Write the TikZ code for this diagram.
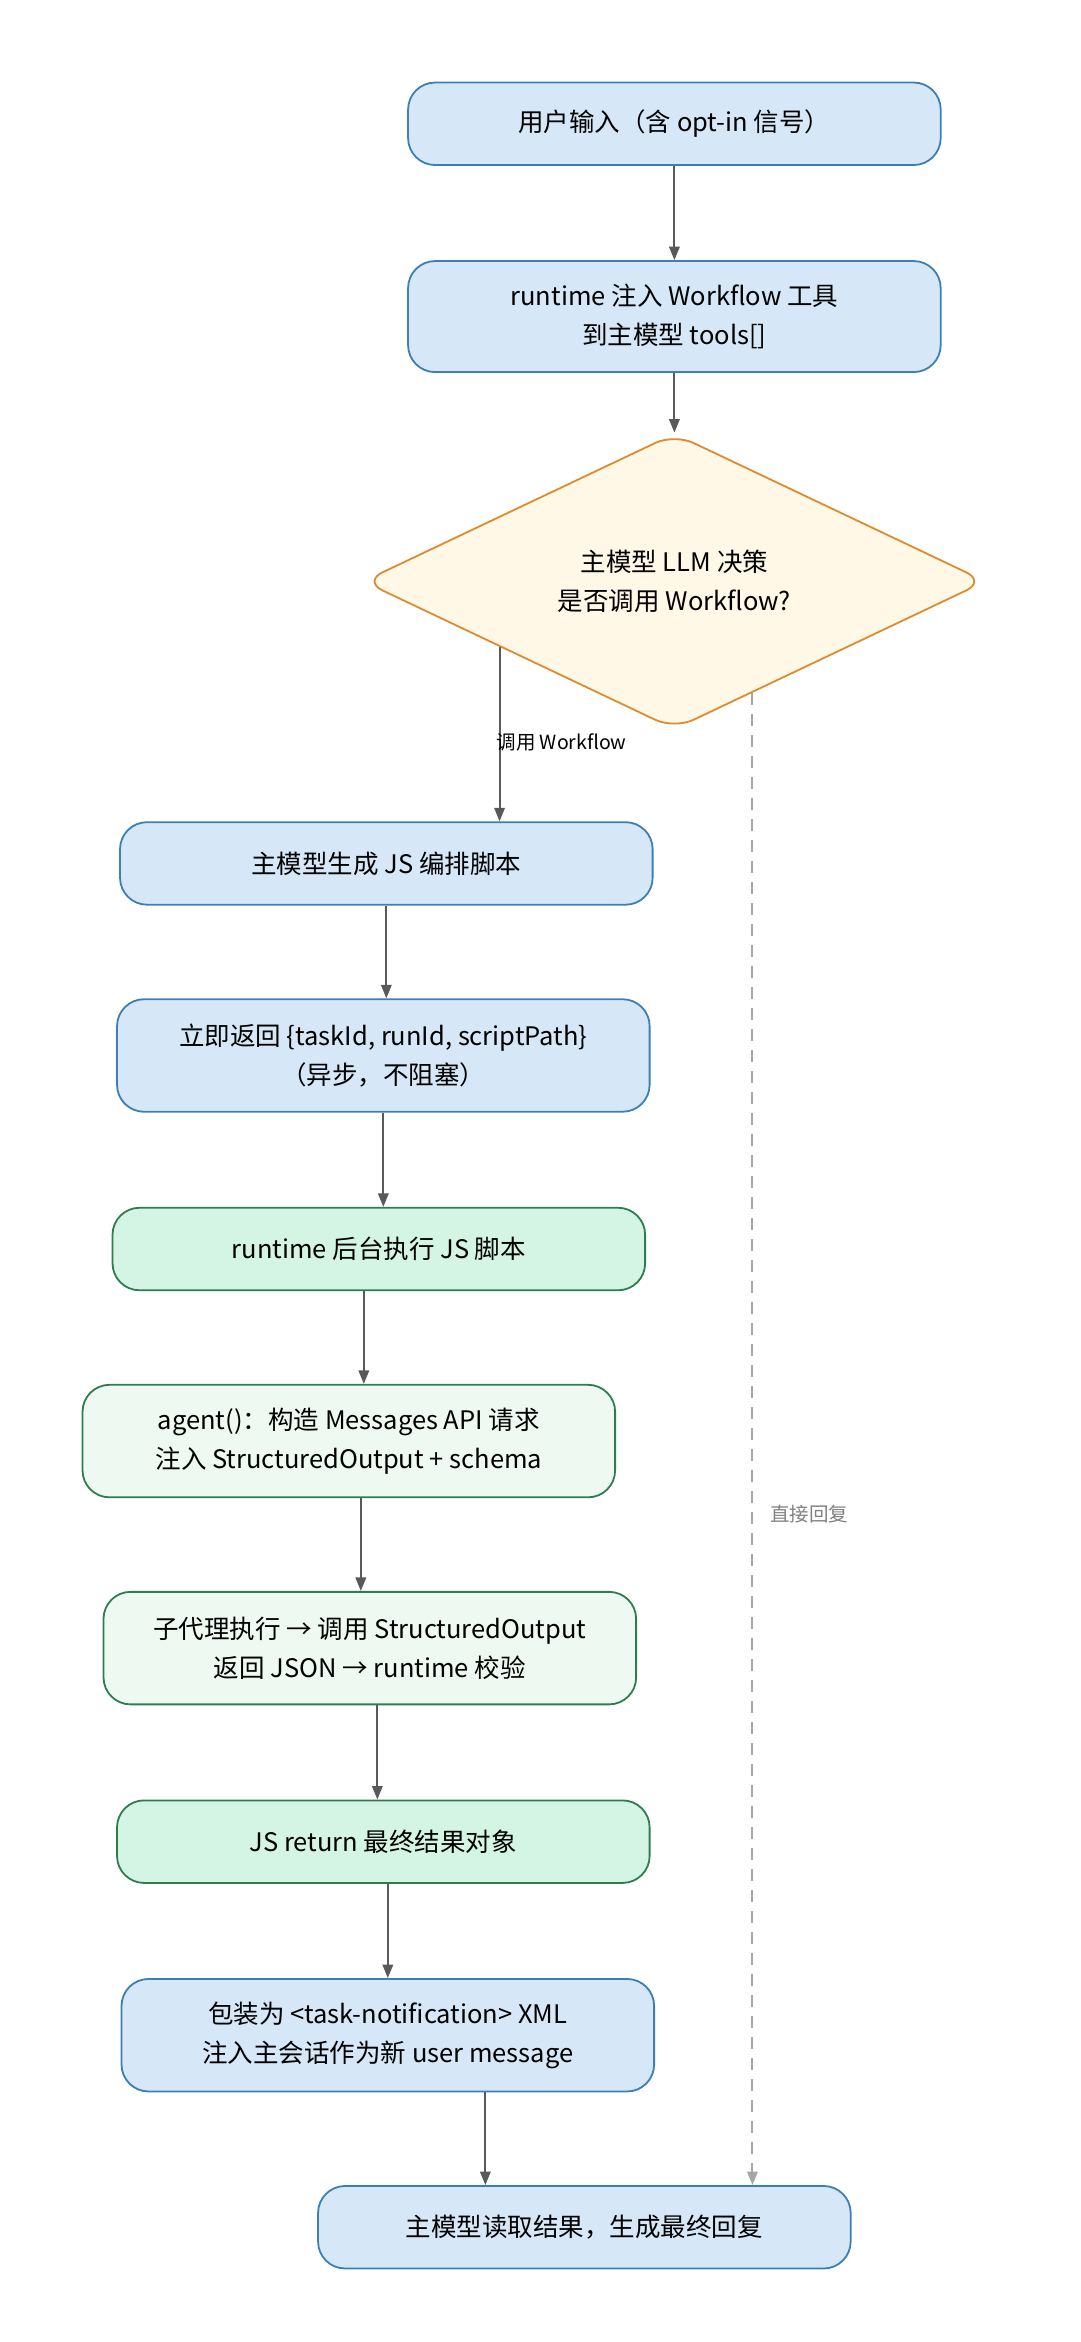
\documentclass[tikz,border=0pt]{standalone}
\usepackage{fontspec}
\setmainfont{Noto Sans CJK SC}
\usetikzlibrary{shapes.geometric,arrows.meta,positioning,calc}
\definecolor{bluefill}{HTML}{D6E8F7}
\definecolor{blueline}{HTML}{3D7FB3}
\definecolor{diafill}{HTML}{FFF8E6}
\definecolor{dialine}{HTML}{E08A2E}
\definecolor{greenfill}{HTML}{D4F5E4}
\definecolor{lightgreen}{HTML}{EEF9F1}
\definecolor{greenline}{HTML}{2E7D4F}
\tikzset{box/.style={rectangle,rounded corners=18pt,draw,line width=1.2pt,minimum width=355pt,align=center,font=\fontsize{17}{26}\selectfont,inner sep=0pt},
         blue box/.style={box,fill=bluefill,draw=blueline},
         green box/.style={box,fill=greenfill,draw=greenline},
         pale box/.style={box,fill=lightgreen,draw=greenline},
         decision/.style={diamond,rounded corners=14pt,fill=diafill,draw=dialine,line width=1.2pt,minimum width=415pt,minimum height=145pt,inner sep=0pt,align=center,font=\fontsize{17}{26}\selectfont},
         arr/.style={-{Triangle[length=9pt,width=7pt]},draw=black!65,line width=1.3pt},
         edge label/.style={rectangle,draw=none,fill=white,font=\fontsize{13}{16}\selectfont},
}
\begin{document}
\begin{tikzpicture}[x=1pt,y=1pt]
\useasboundingbox (0,0) rectangle (720,-1561);

\node[blue box,minimum height=55pt] (input) at (449.5,-82.5) {用户输入（含 opt-in 信号）};
\node[blue box,minimum height=74pt] (inject) at (449.5,-211) {runtime 注入 Workflow 工具\\到主模型 tools[]};
\node[decision] (decide) at (449.5,-387.5) {主模型 LLM 决策\\是否调用 Workflow?};
\node[blue box,minimum height=55pt] (gen) at (257.5,-575.5) {主模型生成 JS 编排脚本};
\node[blue box,minimum height=75pt] (ret) at (255.5,-703.5) {立即返回 \{taskId, runId, scriptPath\}\\（异步，不阻塞）};
\node[green box,minimum height=55pt] (exec) at (252.5,-832.5) {runtime 后台执行 JS 脚本};
\node[pale box,minimum height=75pt] (agent) at (232.5,-960.5) {agent()：构造 Messages API 请求\\注入 StructuredOutput + schema};
\node[pale box,minimum height=75pt] (sub) at (246.5,-1098.5) {子代理执行 → 调用 StructuredOutput\\返回 JSON → runtime 校验};
\node[green box,minimum height=55pt] (jsret) at (255.5,-1227.5) {JS return 最终结果对象};
\node[blue box,minimum height=75pt] (wrap) at (258.5,-1356.5) {包装为 <task-notification> XML\\注入主会话作为新 user message};
\node[blue box,minimum height=55pt] (final) at (389.5,-1484.5) {主模型读取结果，生成最终回复};

\draw[arr] (input.south) -- (inject.north);
\draw[arr] (inject.south) -- (decide.north);
\coordinate (yes) at ($(decide.west)!0.44!(decide.south)$);
\coordinate (no) at ($(decide.south)!0.25!(decide.east)$);
\draw[arr] (yes) -- (yes |- gen.north) node[edge label,pos=0.55,right=-6pt,fill=none] {调用 Workflow};
\draw[arr] (gen.south) -- (gen.south |- ret.north);
\draw[arr] (ret.south) -- (ret.south |- exec.north);
\draw[arr] ([xshift=-10pt]exec.south) -- ([xshift=-10pt]exec.south |- agent.north);
\draw[arr] ([xshift=8pt]agent.south) -- ([xshift=8pt]agent.south |- sub.north);
\draw[arr] ([xshift=5pt]sub.south) -- ([xshift=5pt]sub.south |- jsret.north);
\draw[arr] ([xshift=3pt]jsret.south) -- ([xshift=3pt]jsret.south |- wrap.north);
\draw[arr] ([xshift=65pt]wrap.south) -- ([xshift=65pt]wrap.south |- final.north);
\draw[arr,draw=black!35,dashed,dash pattern=on 8pt off 6pt] (no) -- (no |- final.north)
  node[edge label,pos=0.55,right=8pt,fill=none,text=black!50] {直接回复};
\end{tikzpicture}
\end{document}
